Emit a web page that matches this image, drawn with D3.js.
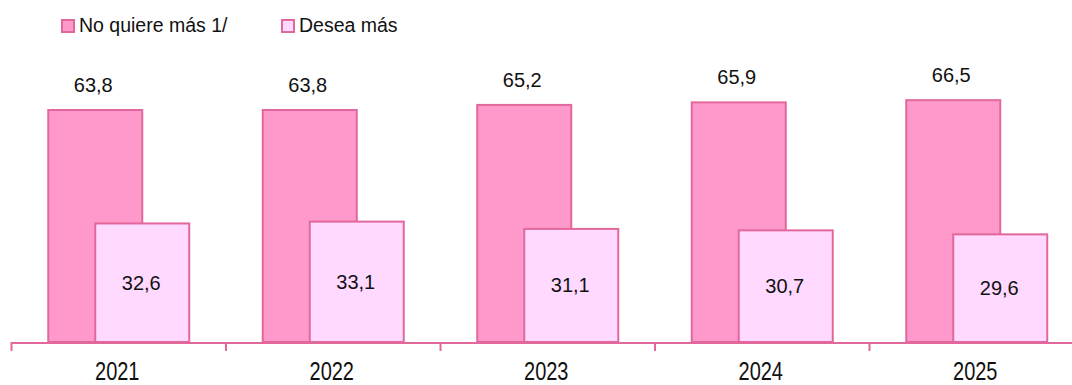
<!DOCTYPE html>
<html>
<head>
<meta charset="utf-8">
<script src="https://cdn.jsdelivr.net/npm/d3@7"></script>
<style>
  html, body { margin: 0; padding: 0; background: #fff; }
  svg { display: block; font-family: "Liberation Sans", Arial, sans-serif; }
</style>
</head>
<body>
<svg id="chart" width="1072" height="385"></svg>
<script>
const years = ["2021", "2022", "2023", "2024", "2025"];
const noQuiere = [63.8, 63.8, 65.2, 65.9, 66.5];
const desea = [32.6, 33.1, 31.1, 30.7, 29.6];
const seriesNames = ["No quiere más 1/", "Desea más"];

const colors = {
  fill1: "#FF99CC",
  fill2: "#FFD9FF",
  stroke: "#E2689C"
};

const svg = d3.select("#chart");
const baseY = 342;

const x = d3.scaleBand().domain(years).range([11, 11 + 5 * 214.5]).padding(0);
const y = d3.scaleLinear().domain([0, 70]).range([baseY, baseY - 70 * (232 / 63.8)]);
const fmt = v => d3.format(".1f")(v).replace(".", ",");

const bw = x.bandwidth();
const barW = 94;
const off1 = -70, off2 = -23;

// axis line
svg.append("line")
  .attr("x1", 11).attr("x2", 1072)
  .attr("y1", baseY + 1).attr("y2", baseY + 1)
  .attr("stroke", colors.stroke).attr("stroke-width", 2);

// ticks
const tickPos = years.map(d => x(d)).concat([x(years[years.length - 1]) + bw]);
svg.selectAll("line.tick").data(tickPos).enter().append("line")
  .attr("class", "tick")
  .attr("x1", d => d + 0.5).attr("x2", d => d + 0.5)
  .attr("y1", baseY).attr("y2", baseY + 9)
  .attr("stroke", colors.stroke).attr("stroke-width", 2);

const c = d => x(d) + bw / 2;

// series 1 bars
svg.selectAll("rect.s1").data(years).enter().append("rect")
  .attr("class", "s1")
  .attr("x", d => c(d) + off1)
  .attr("y", (d, i) => y(noQuiere[i]))
  .attr("width", barW)
  .attr("height", (d, i) => baseY - y(noQuiere[i]))
  .attr("fill", colors.fill1)
  .attr("stroke", colors.stroke).attr("stroke-width", 2);

// series 2 bars
svg.selectAll("rect.s2").data(years).enter().append("rect")
  .attr("class", "s2")
  .attr("x", d => c(d) + off2)
  .attr("y", (d, i) => y(desea[i]))
  .attr("width", barW)
  .attr("height", (d, i) => baseY - y(desea[i]))
  .attr("fill", colors.fill2)
  .attr("stroke", colors.stroke).attr("stroke-width", 2);

// labels series 1 (above)
svg.selectAll("text.l1").data(years).enter().append("text")
  .attr("class", "l1")
  .attr("x", d => c(d) + off1 + barW / 2 - 2)
  .attr("y", (d, i) => y(noQuiere[i]) - 18)
  .attr("text-anchor", "middle")
  .attr("font-size", 20)
  .attr("fill", "#111")
  .text((d, i) => fmt(noQuiere[i]));

// labels series 2 (inside, centered)
svg.selectAll("text.l2").data(years).enter().append("text")
  .attr("class", "l2")
  .attr("x", d => c(d) + off2 + barW / 2 - 1)
  .attr("y", (d, i) => (y(desea[i]) + baseY) / 2 + 7)
  .attr("text-anchor", "middle")
  .attr("font-size", 20)
  .attr("fill", "#111")
  .text((d, i) => fmt(desea[i]));

// x-axis labels (vertically stretched)
svg.selectAll("text.xl").data(years).enter().append("text")
  .attr("class", "xl")
  .attr("transform", d => `translate(${c(d) - 1},379.5) scale(1,1.25)`)
  .attr("text-anchor", "middle")
  .attr("font-size", 20)
  .attr("fill", "#111")
  .text(d => d);

// legend
const legend = [
  { name: seriesNames[0], fill: colors.fill1, x: 61, tx: 79 },
  { name: seriesNames[1], fill: colors.fill2, x: 281, tx: 299 }
];
legend.forEach(l => {
  svg.append("rect")
    .attr("x", l.x + 1).attr("y", 20)
    .attr("width", 12).attr("height", 12)
    .attr("fill", l.fill)
    .attr("stroke", colors.stroke).attr("stroke-width", 2);
  svg.append("text")
    .attr("x", l.tx).attr("y", 32)
    .attr("font-size", 19.5)
    .attr("fill", "#111")
    .text(l.name);
});
</script>
</body>
</html>
